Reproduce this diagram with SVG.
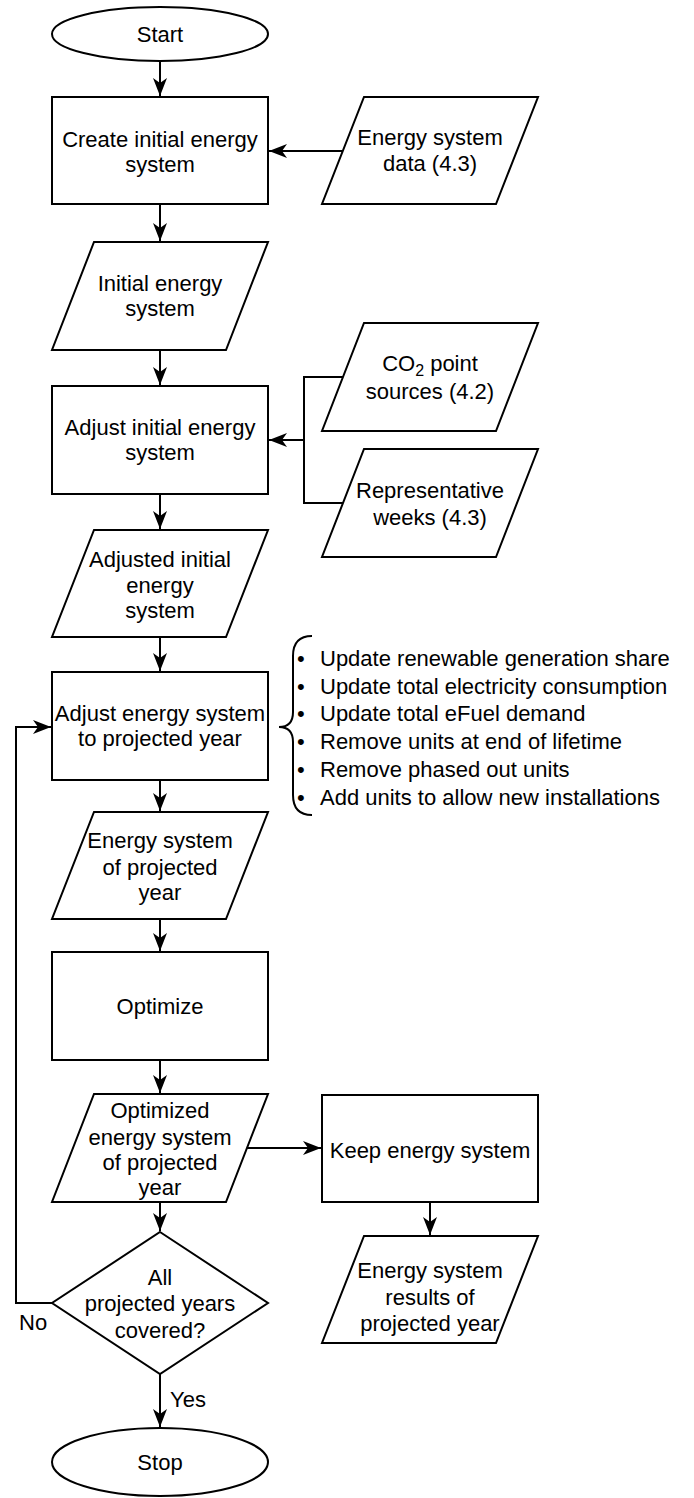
<svg xmlns="http://www.w3.org/2000/svg" width="694" height="1498" viewBox="0 0 694 1498">
  <style>
    .shape { fill: #ffffff; stroke: #000000; stroke-width: 2; }
    .edge { fill: none; stroke: #000000; stroke-width: 2; }
    .label { font-family: "Liberation Sans", Arial, sans-serif; font-size: 22px; fill: #000000; text-anchor: middle; }
    .note { font-family: "Liberation Sans", Arial, sans-serif; font-size: 22px; fill: #000000; }
  </style>
  <defs>
    <marker id="arrow" markerUnits="userSpaceOnUse" markerWidth="22" markerHeight="18" viewBox="-20 -9 22 18" refX="0" refY="0" orient="auto">
      <path d="M0,0 L-18,-7 L-13,0 L-18,7 Z" fill="#000000"/>
    </marker>
  </defs>

  <rect width="694" height="1498" fill="#ffffff"/>

  <!-- connectors -->
  <g id="connectors">
    <path class="edge" d="M160,61 L160,96" marker-end="url(#arrow)"/>
    <path class="edge" d="M342,151 L269,151" marker-end="url(#arrow)"/>
    <path class="edge" d="M160,204 L160,241" marker-end="url(#arrow)"/>
    <path class="edge" d="M160,350 L160,385" marker-end="url(#arrow)"/>
    <path class="edge" d="M343,377 L304,377 L304,440 L269,440" marker-end="url(#arrow)"/>
    <path class="edge" d="M343,503 L304,503 L304,440"/>
    <path class="edge" d="M160,494 L160,529" marker-end="url(#arrow)"/>
    <path class="edge" d="M160,637 L160,671" marker-end="url(#arrow)"/>
    <path class="edge" d="M160,780 L160,811" marker-end="url(#arrow)"/>
    <path class="edge" d="M160,919 L160,951" marker-end="url(#arrow)"/>
    <path class="edge" d="M160,1060 L160,1093" marker-end="url(#arrow)"/>
    <path class="edge" d="M247,1148 L321,1148" marker-end="url(#arrow)"/>
    <path class="edge" d="M430,1202 L430,1235" marker-end="url(#arrow)"/>
    <path class="edge" d="M160,1202 L160,1231" marker-end="url(#arrow)"/>
    <path class="edge" d="M160,1374 L160,1427" marker-end="url(#arrow)"/>
    <path class="edge" d="M52,1303 L16,1303 L16,727 L51,727" marker-end="url(#arrow)"/>
    <text class="note" x="19" y="1330">No</text>
    <text class="note" x="170" y="1407">Yes</text>
  </g>

  <g id="start">
    <ellipse class="shape" cx="160" cy="34" rx="108" ry="27"/>
    <text class="label" x="160" y="42">Start</text>
  </g>

  <g id="create">
    <rect class="shape" x="52" y="97" width="216" height="107"/>
    <text class="label" x="160" y="147">Create initial energy</text>
    <text class="label" x="160" y="172">system</text>
  </g>

  <g id="system-data">
    <polygon class="shape" points="364,97 538,97 496,204 322,204"/>
    <text class="label" x="430" y="145">Energy system</text>
    <text class="label" x="430" y="171">data (4.3)</text>
  </g>

  <g id="initial">
    <polygon class="shape" points="94,242 268,242 226,350 52,350"/>
    <text class="label" x="160" y="291">Initial energy</text>
    <text class="label" x="160" y="316">system</text>
  </g>

  <g id="adjust-initial">
    <rect class="shape" x="52" y="386" width="216" height="108"/>
    <text class="label" x="160" y="435">Adjust initial energy</text>
    <text class="label" x="160" y="460">system</text>
  </g>

  <g id="co2-sources">
    <polygon class="shape" points="364,323 538,323 496,431 322,431"/>
    <text class="label" x="430" y="371">CO<tspan font-size="16" dy="5">2</tspan><tspan dy="-5"> point</tspan></text>
    <text class="label" x="430" y="399">sources (4.2)</text>
  </g>

  <g id="rep-weeks">
    <polygon class="shape" points="364,449 538,449 496,557 322,557"/>
    <text class="label" x="430" y="498">Representative</text>
    <text class="label" x="430" y="525">weeks (4.3)</text>
  </g>

  <g id="adjusted">
    <polygon class="shape" points="94,530 268,530 226,637 52,637"/>
    <text class="label" x="160" y="567">Adjusted initial</text>
    <text class="label" x="160" y="593">energy</text>
    <text class="label" x="160" y="618">system</text>
  </g>

  <g id="adjust-year">
    <rect class="shape" x="52" y="672" width="216" height="108"/>
    <text class="label" x="160" y="721">Adjust energy system</text>
    <text class="label" x="160" y="746">to projected year</text>
  </g>

  <g id="steps-note">
    <path class="edge" d="M312,636 Q293,636 293,656 L293,712 Q293,727 279,727 Q293,727 293,742 L293,795 Q293,815 312,815"/>
    <text class="note" x="297" y="666">•<tspan x="320">Update renewable generation share</tspan></text>
    <text class="note" x="297" y="693.7">•<tspan x="320">Update total electricity consumption</tspan></text>
    <text class="note" x="297" y="721.4">•<tspan x="320">Update total eFuel demand</tspan></text>
    <text class="note" x="297" y="749">•<tspan x="320">Remove units at end of lifetime</tspan></text>
    <text class="note" x="297" y="776.8">•<tspan x="320">Remove phased out units</tspan></text>
    <text class="note" x="297" y="804.5">•<tspan x="320">Add units to allow new installations</tspan></text>
  </g>

  <g id="projected">
    <polygon class="shape" points="94,812 268,812 226,919 52,919"/>
    <text class="label" x="160" y="848">Energy system</text>
    <text class="label" x="160" y="875">of projected</text>
    <text class="label" x="160" y="900">year</text>
  </g>

  <g id="optimize">
    <rect class="shape" x="52" y="952" width="216" height="108"/>
    <text class="label" x="160" y="1014">Optimize</text>
  </g>

  <g id="optimized">
    <polygon class="shape" points="94,1094 268,1094 226,1202 52,1202"/>
    <text class="label" x="160" y="1118">Optimized</text>
    <text class="label" x="160" y="1145">energy system</text>
    <text class="label" x="160" y="1170">of projected</text>
    <text class="label" x="160" y="1195">year</text>
  </g>

  <g id="keep">
    <rect class="shape" x="322" y="1095" width="216" height="107"/>
    <text class="label" x="430" y="1158">Keep energy system</text>
  </g>

  <g id="results">
    <polygon class="shape" points="364,1236 538,1236 496,1343 322,1343"/>
    <text class="label" x="430" y="1278">Energy system</text>
    <text class="label" x="430" y="1305">results of</text>
    <text class="label" x="430" y="1331">projected year</text>
  </g>

  <g id="decision">
    <polygon class="shape" points="160,1232 268,1303 160,1374 52,1303"/>
    <text class="label" x="160" y="1285">All</text>
    <text class="label" x="160" y="1311">projected years</text>
    <text class="label" x="160" y="1338">covered?</text>
  </g>

  <g id="stop">
    <ellipse class="shape" cx="160" cy="1462" rx="108" ry="34"/>
    <text class="label" x="160" y="1470">Stop</text>
  </g>
</svg>
